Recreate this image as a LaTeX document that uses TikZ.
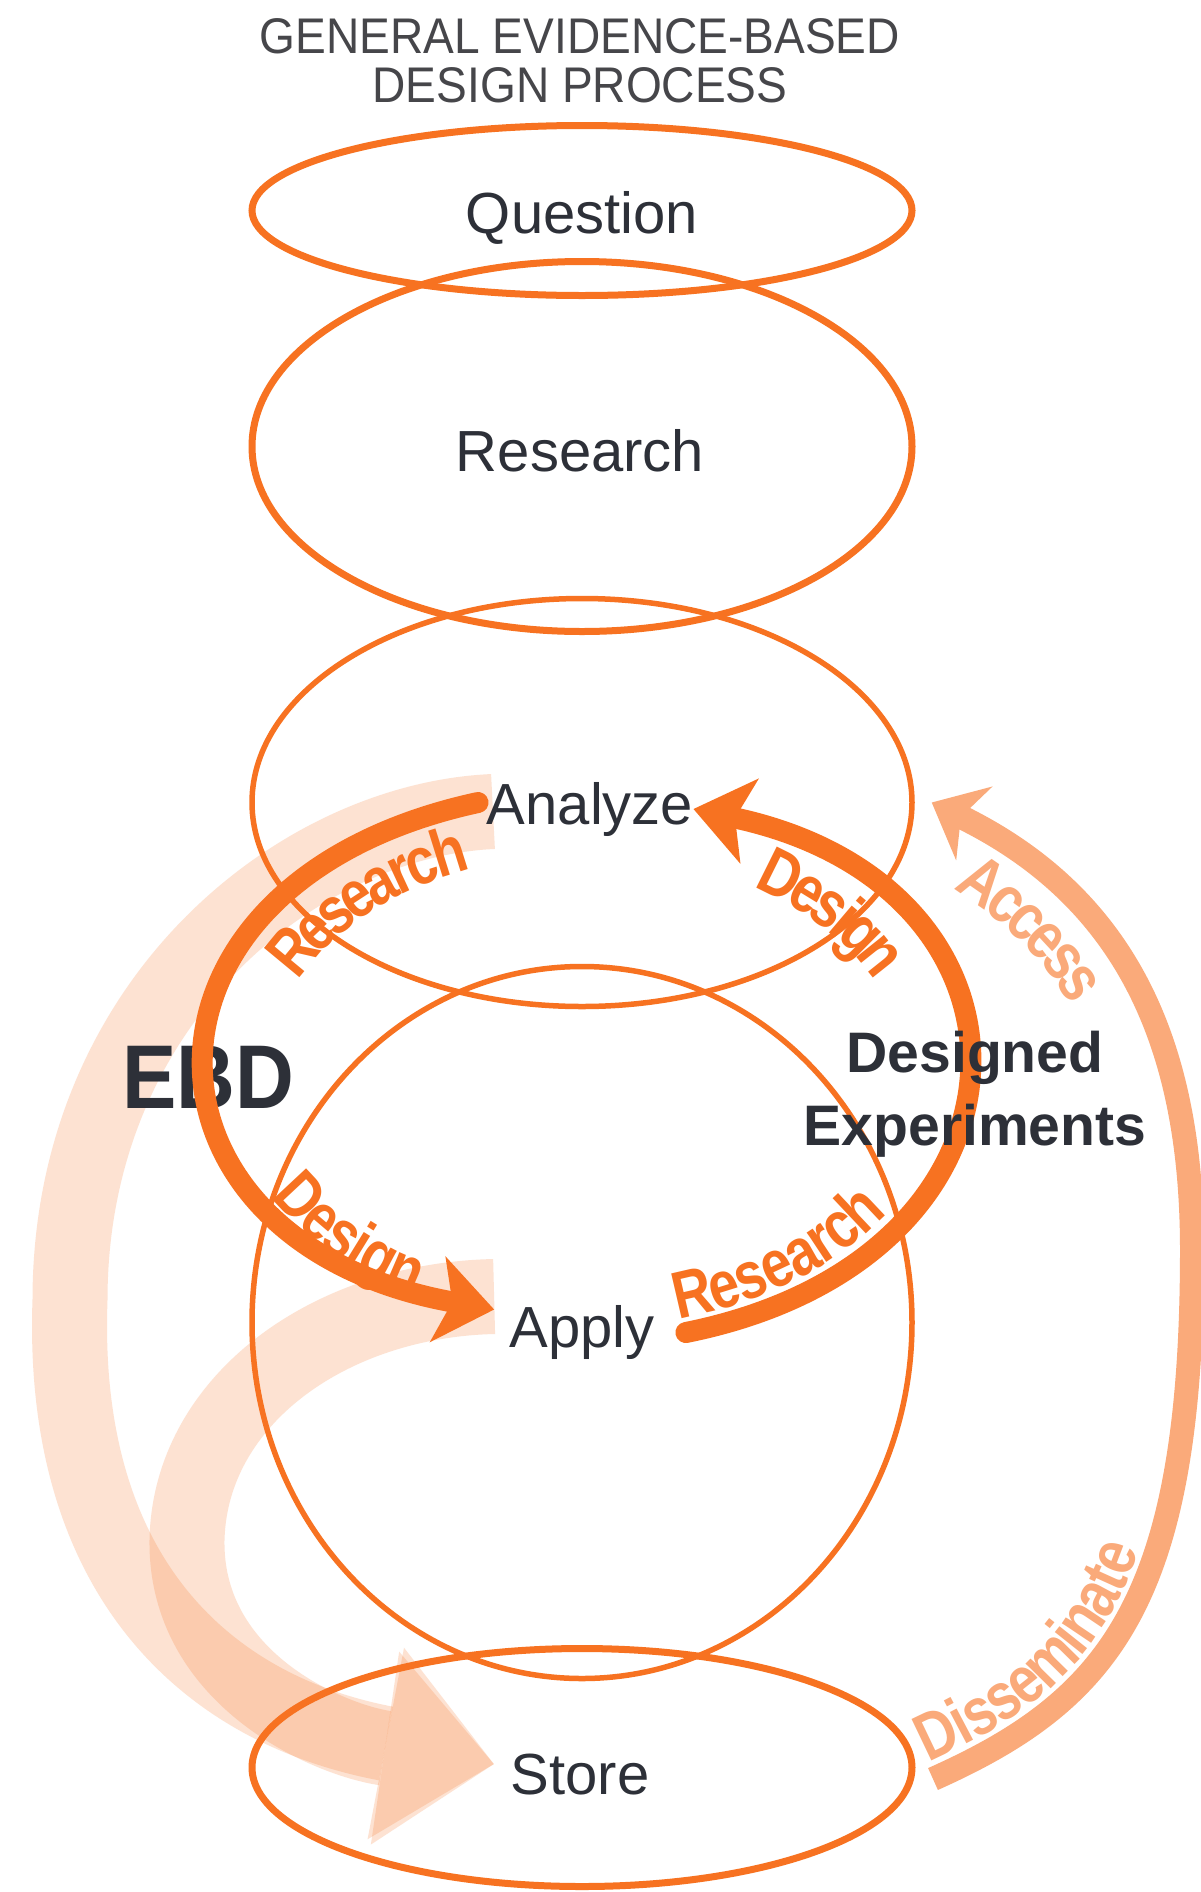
\documentclass[tikz,border=0pt]{standalone}
\usepackage{fontspec}
\setmainfont{Liberation Sans}
\newfontfamily\titlefont{Liberation Sans}[FakeStretch=0.92]
\newfontfamily\condfont{Liberation Sans}[FakeStretch=0.82]
\newfontfamily\ebdfont{Liberation Sans}[FakeStretch=0.9]
\usetikzlibrary{shapes.geometric, arrows.meta, decorations.text, positioning}
\pgfdeclarelayer{background}
\pgfsetlayers{background,main}
\definecolor{ebdorange}{RGB}{247,114,33}
\colorlet{spreadorange}{ebdorange!60}
\definecolor{inkgray}{RGB}{45,48,56}
\definecolor{titlegray}{RGB}{70,70,74}
\newcommand{\labelfont}{\condfont\bfseries\fontsize{38}{38}\selectfont}
\newcommand{\spreadfont}{\condfont\bfseries\fontsize{38}{38}\selectfont}
\tikzset{
	stage/.style={draw=ebdorange, ellipse, inner sep=0pt},
	stagetext/.style={text=inkgray, inner sep=0pt, anchor=base, font=\fontsize{33}{36}\selectfont},
	ebdarrow/.style={draw=ebdorange, line width=0.42cm, line cap=round, -{Stealth[length=1.15cm, width=1.75cm, inset=0.3cm, line width=0pt]}},
	paleband/.style={draw=ebdorange, opacity=0.2, line width=1.5cm, -{Triangle[length=2.2cm, width=3.9cm, line width=0pt]}},
	spread/.style={draw=spreadorange, line width=0.48cm, -{Stealth[length=0.95cm, width=1.65cm, inset=0.3cm, line width=0pt]}},
	looplabel/.style 2 args={decorate, decoration={text along path, text align=center, raise=#2, text color=ebdorange, text={|\labelfont|#1}}},
	spreadlabel/.style n args={3}{decorate, decoration={text along path, text align={left, left indent=#3}, raise=#2, text color=spreadorange, text={|\spreadfont|#1}}}
}
\begin{document}
\begin{tikzpicture}
	\path[use as bounding box] (0,0) rectangle (24.02,-37.84);
	
	\node[align=center, text=titlegray, inner sep=0pt, anchor=north, font=\titlefont\fontsize{28.5}{27.8}\selectfont] (title) at (11.6,-0.36) {GENERAL EVIDENCE-BASED\\DESIGN PROCESS};
	
	\node[stage, minimum width=13.2cm, minimum height=3.4cm, line width=0.14cm] (question) at (11.64,-4.21) {};
	\node[stagetext] (questiontxt) at (11.64,-4.66) {Question};
	
	\node[stage, minimum width=13.2cm, minimum height=7.4cm, line width=0.14cm] (research) at (11.64,-8.93) {};
	\node[stagetext] (researchtxt) at (11.6,-9.42) {Research};
	
	\node[stage, minimum width=13.2cm, minimum height=8.16cm, line width=0.11cm] (analyze) at (11.64,-16.05) {};
	\node[stagetext] (analyzetxt) at (11.8,-16.48) {Analyze};
	
	\node[stage, minimum width=13.2cm, minimum height=14.24cm, line width=0.11cm] (apply) at (11.64,-26.45) {};
	\node[stagetext] (applytxt) at (11.64,-26.94) {Apply};
	
	\node[stage, minimum width=13.2cm, minimum height=4.76cm, line width=0.14cm] (store) at (11.64,-35.35) {};
	\node[stagetext] (storetxt) at (11.6,-35.88) {Store};
	
	% pale bands into Store
	\begin{pgfonlayer}{background}
		\fill[white] (0,0) rectangle (24.02,-37.84);
		\draw[paleband] ([xshift=0.13cm, yshift=-0.05cm]analyzetxt.west) .. controls (6.0,-16.4) and (1.4,-20.0) .. (1.4,-26.0) .. controls (1.2,-31.6) and (4.2,-34.2) .. ([xshift=-0.33cm, yshift=0.2cm]storetxt.west);
		\draw[paleband] ([xshift=-0.3cm, yshift=0.71cm]applytxt.west) .. controls (6.6,-26.0) and (3.8,-28.0) .. (3.74,-30.8) .. controls (3.7,-33.6) and (6.6,-34.8) .. ([xshift=-0.33cm, yshift=0.2cm]storetxt.west);
	\end{pgfonlayer}
	
	\node[text=inkgray, inner sep=0pt, anchor=base, font=\ebdfont\bfseries\fontsize{51.5}{52}\selectfont] (ebd) at (4.16,-22.16) {EBD};
	
	% EBD loop
	\draw[ebdarrow] ([xshift=-0.17cm, yshift=0.13cm]analyzetxt.west) .. controls +(-7.38,-1.6) and +(-7.48,1.36) .. ([xshift=-0.3cm, yshift=0.45cm]applytxt.west);
	\draw[ebdarrow] ([xshift=0.62cm, yshift=-0.01cm]applytxt.east) .. controls +(7.38,1.48) and +(7.32,-1.58) .. (analyzetxt.east);
	
	\coordinate (loop) at (11.72,-21.34);
	\path[looplabel={Research}{-1.26cm}] ([shift={(165:7.58cm and 5.52cm)}]loop) arc[start angle=165, end angle=101, x radius=7.58cm, y radius=5.52cm];
	\path[looplabel={Design}{-1.26cm}] ([shift={(67:7.58cm and 5.52cm)}]loop) arc[start angle=67, end angle=17, x radius=7.58cm, y radius=5.52cm];
	\path[looplabel={Design}{0.3cm}] ([shift={(202:7.58cm and 5.52cm)}]loop) arc[start angle=202, end angle=249, x radius=7.58cm, y radius=5.52cm];
	\path[looplabel={Research}{0.3cm}] ([shift={(-80:7.58cm and 5.52cm)}]loop) arc[start angle=-80, end angle=-29, x radius=7.58cm, y radius=5.52cm];
	
	\node[align=center, text=inkgray, inner sep=0pt, anchor=north, font=\bfseries\fontsize{32.5}{41.4}\selectfont] (designed) at (19.5,-20.62) {Designed\\Experiments};
	
	% Store back to Analyze
	\coordinate (bandmid) at (23.84,-25.0);
	\draw[spread] ([shift={(0.35,-0.23)}]store.east) .. controls (22.2,-34.0) and (23.84,-32.0) .. (bandmid) .. controls (23.84,-21.0) and (22.6,-18.0) .. ([xshift=0.34cm]analyze.east);
	\path[spreadlabel={Disseminate}{0.34cm}{0.05cm}] ([shift={(0.35,-0.23)}]store.east) .. controls (22.2,-34.0) and (23.84,-32.0) .. (bandmid);
	\path[spreadlabel={Access}{-1.3cm}{1.35cm}] ([xshift=0.34cm]analyze.east) .. controls (22.6,-18.0) and (23.84,-21.0) .. (bandmid);
\end{tikzpicture}
\end{document}
